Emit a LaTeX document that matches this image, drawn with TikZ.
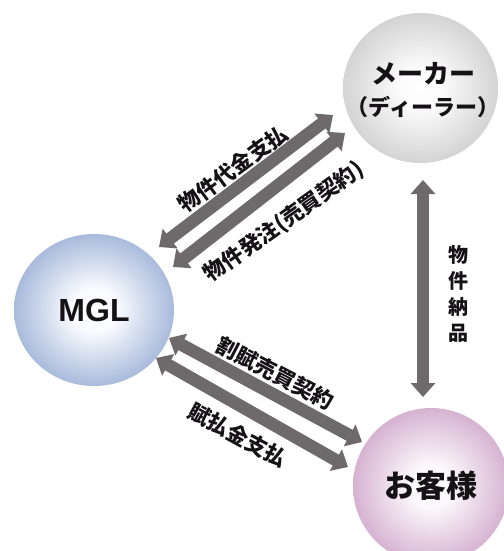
\documentclass[tikz,border=0pt]{standalone}
\usepackage{fontspec}
\usetikzlibrary{arrows.meta,shapes.geometric}
\newfontfamily\cjk{Noto Sans CJK JP}
\newfontfamily\latinb{Liberation Sans}
\definecolor{arrowgrey}{HTML}{6E6A6B}
\definecolor{inkc}{HTML}{141214}
\pgfdeclareradialshading{ballgrey}{\pgfpoint{0bp}{0bp}}{rgb(0bp)=(1,1,1); rgb(7bp)=(0.985,0.985,0.985); rgb(25bp)=(0.83,0.83,0.83); rgb(50bp)=(0.83,0.83,0.83)}
\pgfdeclareradialshading{ballblue}{\pgfpoint{0bp}{0bp}}{rgb(0bp)=(1,1,1); rgb(7bp)=(0.98,0.985,1); rgb(25bp)=(0.66,0.73,0.86); rgb(50bp)=(0.66,0.73,0.86)}
\pgfdeclareradialshading{ballpink}{\pgfpoint{0bp}{0bp}}{rgb(0bp)=(1,1,1); rgb(7bp)=(0.985,0.97,0.985); rgb(25bp)=(0.84,0.70,0.82); rgb(50bp)=(0.84,0.70,0.82)}
\tikzset{
  ball/.style n args={2}{ellipse,minimum width=#1,minimum height=#2,inner sep=0pt,text=inkc,align=center},
  twoway/.style={line width=12.5pt,draw=arrowgrey,{Triangle[width=24pt,length=14pt]}-{Triangle[width=24pt,length=14pt]}},
  lbl/.style={text=inkc,font=\cjk\bfseries\fontsize{21.5pt}{24pt}\selectfont,inner sep=0pt},
}
\begin{document}
\begin{tikzpicture}[x=1pt,y=-1pt]
\useasboundingbox (0,0) rectangle (503,551);
\fill[white] (0,0) rectangle (503,551);
\node[ball={155pt}{150pt},shading=ballgrey] (maker) at (420.5,88) {};
\node[text=inkc,font=\cjk\bfseries\fontsize{26pt}{28pt}\selectfont,inner sep=0pt] (makerA) at (423,74) {メーカー};
\node[text=inkc,font=\cjk\bfseries\fontsize{22pt}{24pt}\selectfont,inner sep=0pt] (makerB) at (423,107) {（ディーラー）};
\node[ball={160pt}{152pt},shading=ballblue,font=\latinb\bfseries\fontsize{32pt}{34pt}\selectfont] (mgl) at (94,310) {MGL};
\node[ball={156pt}{156pt},shading=ballpink,font=\cjk\bfseries\fontsize{31pt}{33pt}\selectfont] (cust) at (431,486) {お客様};
\coordinate (a1) at (159,247); \coordinate (b1) at (333,115);
\coordinate (a2) at (173,267); \coordinate (b2) at (345,133);
\coordinate (a3) at (169,338); \coordinate (b3) at (362,442);
\coordinate (a4) at (156,358); \coordinate (b4) at (348,467);
\coordinate (a5) at (423,180); \coordinate (b5) at (423,397);
\draw[twoway] (a1) -- (b1);
\draw[twoway] (a2) -- (b2);
\draw[twoway] (a3) -- (b3);
\draw[twoway] (a4) -- (b4);
\draw[twoway] (a5) -- (b5);
\node[lbl,rotate=36.4] (t1) at (233,169) {物件代金支払};
\node[lbl,rotate=35.4] (t2) at (284,222) {物件発注(売買契約)};
\node[lbl,rotate=-27.5] (t3) at (275,373) {割賦売買契約};
\node[lbl,rotate=-28.6] (t4) at (238,435) {賦払金支払};
\node[lbl,font=\cjk\bfseries\fontsize{20pt}{26pt}\selectfont,align=center] (t5) at (458,294) {物\\件\\納\\品};
\end{tikzpicture}
\end{document}
